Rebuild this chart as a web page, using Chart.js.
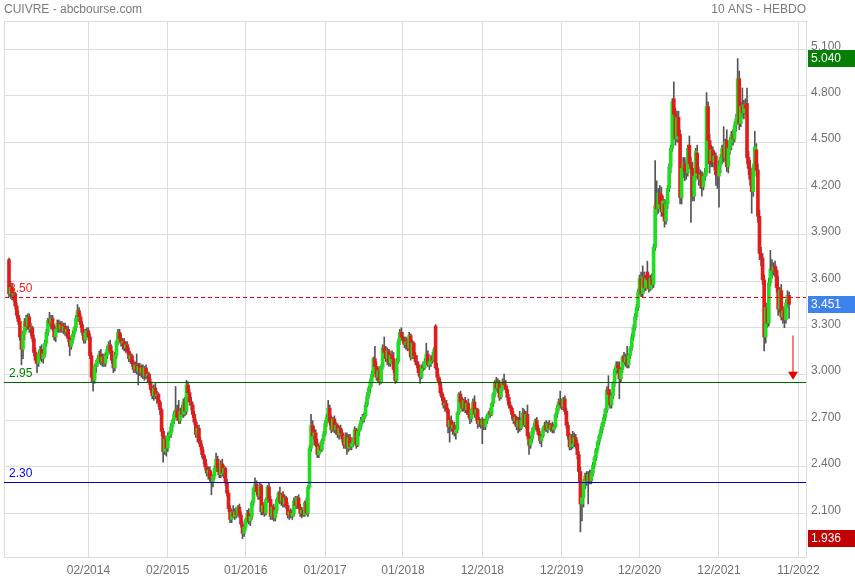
<!DOCTYPE html>
<html><head><meta charset="utf-8">
<script src="https://cdn.jsdelivr.net/npm/chart.js@4.4.1/dist/chart.umd.min.js"></script>
<style>html,body{margin:0;padding:0;background:#fff}#wrap{width:855px;height:580px}</style>
</head><body><div id="wrap"><canvas id="c" width="855" height="580"></canvas></div>
<script>
const OPEN = [
3.74,3.52,3.56,3.51,3.52,3.44,3.38,3.34,3.24,3.16,
3.26,3.34,3.31,3.37,3.29,3.30,3.23,3.14,3.09,3.07,
3.13,3.16,3.10,3.13,3.20,3.27,3.35,3.33,3.36,3.30,
3.24,3.29,3.33,3.29,3.32,3.28,3.31,3.27,3.29,3.23,
3.18,3.22,3.26,3.30,3.36,3.41,3.37,3.32,3.27,3.22,
3.27,3.28,3.24,3.12,2.98,2.96,3.05,3.07,3.10,3.13,
3.08,3.11,3.07,3.12,3.16,3.19,3.15,3.09,3.04,3.12,
3.21,3.27,3.23,3.20,3.21,3.17,3.19,3.15,3.10,3.12,
3.07,3.03,3.06,3.02,3.05,3.01,3.04,2.99,3.04,2.99,
3.00,2.95,2.90,2.86,2.91,2.86,2.87,2.82,2.77,2.63,
2.50,2.58,2.52,2.60,2.61,2.66,2.70,2.74,2.77,2.72,
2.70,2.76,2.74,2.82,2.76,2.93,2.88,2.82,2.80,2.74,
2.69,2.61,2.65,2.57,2.53,2.48,2.45,2.40,2.36,2.38,
2.33,2.30,2.34,2.39,2.45,2.39,2.35,2.42,2.36,2.39,
2.30,2.23,2.13,2.06,2.11,2.08,2.11,2.09,2.14,2.09,
2.03,1.97,2.01,2.06,2.10,2.05,2.08,2.17,2.26,2.29,
2.24,2.21,2.28,2.11,2.15,2.10,2.19,2.27,2.19,2.08,
2.14,2.07,2.12,2.19,2.23,2.18,2.22,2.16,2.20,2.15,
2.09,2.11,2.08,2.10,2.18,2.15,2.20,2.14,2.10,2.12,
2.09,2.17,2.10,2.27,2.52,2.67,2.60,2.62,2.55,2.48,
2.53,2.51,2.57,2.61,2.68,2.72,2.78,2.69,2.64,2.71,
2.64,2.67,2.61,2.65,2.62,2.58,2.54,2.60,2.52,2.59,
2.53,2.55,2.57,2.64,2.54,2.63,2.66,2.70,2.71,2.73,
2.80,2.86,2.91,2.95,3.00,3.10,3.05,2.98,3.02,2.95,
3.05,3.17,3.14,3.10,3.15,3.07,3.12,3.10,3.03,2.96,
3.08,3.21,3.27,3.24,3.22,3.19,3.21,3.17,3.25,3.11,
3.20,3.12,3.08,3.06,3.01,2.98,3.05,3.04,3.08,3.13,
3.06,3.08,3.11,3.09,3.31,3.04,2.98,2.95,2.88,2.85,
2.80,2.81,2.77,2.66,2.70,2.65,2.67,2.62,2.64,2.75,
2.87,2.82,2.78,2.83,2.77,2.81,2.74,2.71,2.77,2.82,
2.74,2.77,2.68,2.70,2.67,2.70,2.66,2.70,2.73,2.75,
2.74,2.81,2.87,2.95,2.91,2.94,2.85,2.91,2.95,2.93,
2.90,2.85,2.80,2.78,2.74,2.70,2.72,2.66,2.70,2.65,
2.70,2.75,2.67,2.74,2.60,2.54,2.58,2.63,2.66,2.70,
2.65,2.61,2.57,2.60,2.65,2.67,2.64,2.68,2.65,2.67,
2.64,2.66,2.74,2.78,2.82,2.80,2.79,2.84,2.76,2.67,
2.60,2.53,2.60,2.55,2.59,2.55,2.48,2.37,2.16,2.20,
2.30,2.34,2.31,2.35,2.31,2.36,2.41,2.46,2.51,2.56,
2.60,2.64,2.68,2.72,2.77,2.90,2.87,2.80,2.86,2.94,
3.03,3.06,3.04,2.97,3.03,3.11,3.08,3.11,3.06,3.12,
3.17,3.24,3.30,3.37,3.43,3.53,3.62,3.52,3.63,3.56,
3.66,3.61,3.55,3.62,3.58,3.82,4.11,4.07,4.17,4.16,
4.05,4.10,3.99,4.10,4.20,4.34,4.46,4.78,4.68,4.52,
4.66,4.55,4.14,4.33,4.36,4.33,4.30,4.48,4.36,4.33,
4.15,4.28,4.43,4.30,4.26,4.29,4.21,4.28,4.30,4.73,
4.51,4.38,4.45,4.37,4.41,4.31,4.28,4.35,4.40,4.46,
4.40,4.51,4.34,4.46,4.50,4.55,4.52,4.61,4.65,4.91,
4.62,4.73,4.69,4.74,4.75,4.40,4.33,4.26,4.18,4.34,
4.45,4.32,4.02,3.78,3.75,3.61,3.24,3.43,3.33,3.59,
3.68,3.67,3.70,3.67,3.56,3.42,3.54,3.37,3.41,3.35,
3.46,3.51];
const HIGH = [
3.75,3.60,3.58,3.54,3.53,3.46,3.41,3.36,3.26,3.28,
3.36,3.38,3.39,3.39,3.33,3.31,3.25,3.17,3.12,3.15,
3.18,3.19,3.15,3.22,3.29,3.36,3.40,3.38,3.38,3.32,
3.31,3.35,3.35,3.34,3.34,3.33,3.33,3.31,3.31,3.25,
3.24,3.28,3.31,3.38,3.45,3.43,3.39,3.34,3.29,3.29,
3.30,3.30,3.26,3.14,3.02,3.06,3.09,3.12,3.15,3.16,
3.13,3.13,3.14,3.18,3.21,3.22,3.18,3.11,3.14,3.22,
3.29,3.29,3.26,3.23,3.23,3.21,3.21,3.17,3.14,3.13,
3.09,3.08,3.13,3.07,3.07,3.06,3.06,3.05,3.06,3.02,
3.01,2.97,2.92,2.93,2.94,2.89,2.88,2.83,2.78,2.65,
2.60,2.60,2.62,2.63,2.68,2.71,2.76,2.92,2.80,2.83,
2.78,2.80,2.84,2.85,2.96,2.95,2.90,2.85,2.82,2.76,
2.71,2.67,2.67,2.59,2.55,2.51,2.47,2.42,2.40,2.40,
2.37,2.35,2.41,2.49,2.47,2.41,2.44,2.45,2.41,2.40,
2.32,2.25,2.15,2.12,2.15,2.13,2.14,2.15,2.16,2.11,
2.05,2.03,2.07,2.12,2.13,2.10,2.18,2.27,2.33,2.31,
2.26,2.30,2.29,2.17,2.17,2.20,2.28,2.30,2.21,2.15,
2.16,2.13,2.20,2.24,2.27,2.23,2.24,2.22,2.21,2.17,
2.12,2.13,2.12,2.20,2.21,2.21,2.22,2.16,2.13,2.14,
2.18,2.20,2.28,2.54,2.74,2.70,2.66,2.64,2.58,2.54,
2.56,2.58,2.63,2.70,2.74,2.83,2.80,2.73,2.72,2.73,
2.69,2.68,2.66,2.67,2.64,2.60,2.62,2.62,2.61,2.61,
2.57,2.59,2.66,2.65,2.64,2.68,2.72,2.74,2.75,2.82,
2.88,2.92,2.97,3.02,3.11,3.18,3.08,3.04,3.05,3.06,
3.19,3.24,3.18,3.17,3.16,3.13,3.15,3.14,3.05,3.10,
3.23,3.29,3.30,3.27,3.24,3.24,3.23,3.27,3.26,3.22,
3.21,3.14,3.12,3.08,3.03,3.06,3.08,3.10,3.20,3.15,
3.10,3.12,3.14,3.17,3.32,3.07,3.00,2.97,2.91,2.87,
2.84,2.83,2.78,2.72,2.73,2.69,2.69,2.66,2.76,2.88,
2.89,2.85,2.84,2.85,2.82,2.84,2.76,2.78,2.84,2.86,
2.78,2.78,2.72,2.71,2.72,2.71,2.71,2.74,2.76,2.78,
2.82,2.88,2.96,2.98,2.97,2.96,2.92,2.97,3.00,2.96,
2.92,2.87,2.82,2.79,2.76,2.74,2.73,2.72,2.76,2.72,
2.78,2.77,2.76,2.80,2.62,2.60,2.65,2.68,2.71,2.72,
2.67,2.63,2.61,2.66,2.69,2.70,2.69,2.70,2.68,2.69,
2.68,2.75,2.80,2.84,2.89,2.84,2.85,2.86,2.78,2.69,
2.62,2.61,2.63,2.62,2.61,2.57,2.50,2.40,2.22,2.32,
2.36,2.37,2.37,2.38,2.38,2.43,2.47,2.52,2.57,2.61,
2.66,2.69,2.74,2.78,2.92,2.99,2.90,2.88,2.95,3.04,
3.08,3.08,3.08,3.04,3.12,3.14,3.13,3.18,3.13,3.18,
3.26,3.32,3.39,3.45,3.55,3.64,3.66,3.70,3.66,3.64,
3.73,3.64,3.64,3.65,3.84,4.38,4.25,4.20,4.22,4.21,
4.15,4.13,4.12,4.22,4.36,4.48,4.78,4.89,4.72,4.70,
4.70,4.58,4.35,4.40,4.40,4.38,4.48,4.54,4.40,4.37,
4.30,4.46,4.48,4.34,4.32,4.31,4.30,4.33,4.82,4.76,
4.55,4.48,4.47,4.44,4.43,4.35,4.38,4.42,4.48,4.60,
4.52,4.58,4.48,4.53,4.57,4.58,4.63,4.68,5.04,4.96,
4.76,4.85,4.77,4.78,4.85,4.44,4.38,4.30,4.36,4.57,
4.49,4.36,4.06,3.82,3.78,3.64,3.46,3.46,3.62,3.80,
3.74,3.72,3.73,3.69,3.63,3.56,3.58,3.44,3.43,3.48,
3.54,3.53];
const LOW = [
3.50,3.49,3.48,3.47,3.42,3.36,3.32,3.22,3.06,3.10,
3.22,3.28,3.29,3.27,3.25,3.21,3.12,3.07,3.01,3.05,
3.09,3.08,3.07,3.11,3.18,3.25,3.31,3.29,3.28,3.22,
3.21,3.27,3.27,3.27,3.27,3.26,3.25,3.24,3.21,3.12,
3.16,3.20,3.24,3.28,3.34,3.34,3.30,3.25,3.20,3.20,
3.25,3.22,3.10,2.95,2.89,2.94,3.01,3.05,3.07,3.06,
3.05,3.05,3.05,3.10,3.13,3.13,3.07,3.01,3.02,3.10,
3.19,3.21,3.18,3.16,3.15,3.14,3.13,3.08,3.07,3.05,
3.01,3.01,3.00,2.93,2.99,2.98,2.97,2.96,2.97,2.95,
2.93,2.88,2.84,2.83,2.84,2.81,2.79,2.74,2.60,2.43,
2.48,2.47,2.50,2.57,2.59,2.63,2.68,2.72,2.70,2.68,
2.68,2.72,2.72,2.73,2.74,2.86,2.80,2.77,2.72,2.67,
2.59,2.56,2.55,2.51,2.46,2.42,2.38,2.34,2.32,2.31,
2.22,2.27,2.32,2.37,2.37,2.33,2.33,2.34,2.33,2.28,
2.21,2.11,2.04,2.04,2.07,2.06,2.07,2.08,2.07,2.01,
1.936,1.95,1.99,2.04,2.03,2.02,2.06,2.15,2.24,2.22,
2.19,2.19,2.09,2.09,2.08,2.09,2.17,2.17,2.06,2.06,
2.05,2.05,2.10,2.17,2.16,2.15,2.14,2.14,2.13,2.07,
2.06,2.07,2.06,2.08,2.13,2.13,2.13,2.08,2.07,2.08,
2.08,2.09,2.08,2.26,2.50,2.58,2.54,2.53,2.46,2.46,
2.49,2.50,2.55,2.60,2.66,2.70,2.67,2.62,2.63,2.62,
2.61,2.59,2.58,2.60,2.56,2.52,2.52,2.48,2.50,2.51,
2.51,2.53,2.55,2.52,2.53,2.60,2.64,2.68,2.69,2.72,
2.79,2.84,2.88,2.92,2.98,3.03,2.96,2.95,2.93,2.94,
3.03,3.12,3.08,3.06,3.05,3.05,3.08,3.01,2.94,2.95,
3.07,3.19,3.22,3.20,3.17,3.16,3.15,3.15,3.09,3.10,
3.10,3.06,3.04,2.99,2.94,2.97,3.02,3.03,3.06,3.05,
3.03,3.05,3.07,3.08,3.03,2.96,2.93,2.86,2.83,2.78,
2.76,2.75,2.62,2.56,2.63,2.61,2.60,2.58,2.62,2.74,
2.80,2.76,2.76,2.75,2.74,2.72,2.68,2.69,2.75,2.72,
2.70,2.65,2.66,2.65,2.55,2.64,2.64,2.68,2.71,2.72,
2.73,2.79,2.85,2.89,2.88,2.83,2.84,2.89,2.91,2.88,
2.83,2.78,2.76,2.71,2.68,2.67,2.64,2.62,2.63,2.64,
2.68,2.66,2.65,2.58,2.48,2.52,2.56,2.61,2.64,2.63,
2.60,2.55,2.53,2.59,2.63,2.63,2.62,2.64,2.63,2.62,
2.62,2.65,2.72,2.76,2.78,2.77,2.77,2.74,2.65,2.58,
2.51,2.51,2.52,2.53,2.52,2.45,2.30,1.98,2.05,2.14,
2.26,2.28,2.16,2.29,2.29,2.34,2.39,2.44,2.49,2.54,
2.58,2.62,2.66,2.70,2.75,2.84,2.78,2.78,2.84,2.92,
3.00,3.01,2.84,2.95,3.01,3.06,3.05,3.04,3.04,3.10,
3.15,3.22,3.28,3.35,3.41,3.51,3.50,3.50,3.53,3.54,
3.59,3.53,3.54,3.55,3.56,3.80,4.03,4.04,4.07,4.02,
4.02,3.95,3.97,4.07,4.18,4.30,4.44,4.62,4.48,4.50,
4.50,4.10,4.10,4.27,4.25,4.26,4.28,4.33,3.98,4.12,
4.12,4.25,4.27,4.22,4.20,4.15,4.19,4.25,4.28,4.48,
4.30,4.34,4.34,4.32,4.22,4.20,4.08,4.30,4.36,4.37,
4.38,4.31,4.30,4.42,4.45,4.48,4.50,4.57,4.62,4.58,
4.60,4.66,4.65,4.68,4.36,4.29,4.22,4.04,4.15,4.32,
4.28,3.98,3.74,3.70,3.58,3.15,3.20,3.30,3.31,3.57,
3.62,3.64,3.63,3.53,3.38,3.40,3.35,3.33,3.30,3.33,
3.43,3.36];
const CLOSE = [
3.52,3.56,3.51,3.52,3.44,3.38,3.34,3.24,3.16,3.26,
3.34,3.31,3.37,3.29,3.30,3.23,3.14,3.09,3.07,3.13,
3.16,3.10,3.13,3.20,3.27,3.35,3.33,3.36,3.30,3.24,
3.29,3.33,3.29,3.32,3.28,3.31,3.27,3.29,3.23,3.18,
3.22,3.26,3.30,3.36,3.41,3.37,3.32,3.27,3.22,3.27,
3.28,3.24,3.12,2.98,2.96,3.05,3.07,3.10,3.13,3.08,
3.11,3.07,3.12,3.16,3.19,3.15,3.09,3.04,3.12,3.21,
3.27,3.23,3.20,3.21,3.17,3.19,3.15,3.10,3.12,3.07,
3.03,3.06,3.02,3.05,3.01,3.04,2.99,3.04,2.99,3.00,
2.95,2.90,2.86,2.91,2.86,2.87,2.82,2.77,2.63,2.50,
2.58,2.52,2.60,2.61,2.66,2.70,2.74,2.77,2.72,2.70,
2.76,2.74,2.82,2.76,2.93,2.88,2.82,2.80,2.74,2.69,
2.61,2.65,2.57,2.53,2.48,2.45,2.40,2.36,2.38,2.33,
2.30,2.34,2.39,2.45,2.39,2.35,2.42,2.36,2.39,2.30,
2.23,2.13,2.06,2.11,2.08,2.11,2.09,2.14,2.09,2.03,
1.97,2.01,2.06,2.10,2.05,2.08,2.17,2.26,2.29,2.24,
2.21,2.28,2.11,2.15,2.10,2.19,2.27,2.19,2.08,2.14,
2.07,2.12,2.19,2.23,2.18,2.22,2.16,2.20,2.15,2.09,
2.11,2.08,2.10,2.18,2.15,2.20,2.14,2.10,2.12,2.09,
2.17,2.10,2.27,2.52,2.67,2.60,2.62,2.55,2.48,2.53,
2.51,2.57,2.61,2.68,2.72,2.78,2.69,2.64,2.71,2.64,
2.67,2.61,2.65,2.62,2.58,2.54,2.60,2.52,2.59,2.53,
2.55,2.57,2.64,2.54,2.63,2.66,2.70,2.71,2.73,2.80,
2.86,2.91,2.95,3.00,3.10,3.05,2.98,3.02,2.95,3.05,
3.17,3.14,3.10,3.15,3.07,3.12,3.10,3.03,2.96,3.08,
3.21,3.27,3.24,3.22,3.19,3.21,3.17,3.25,3.11,3.20,
3.12,3.08,3.06,3.01,2.98,3.05,3.04,3.08,3.13,3.06,
3.08,3.11,3.09,3.16,3.04,2.98,2.95,2.88,2.85,2.80,
2.81,2.77,2.66,2.70,2.65,2.67,2.62,2.64,2.75,2.87,
2.82,2.78,2.83,2.77,2.81,2.74,2.71,2.77,2.82,2.74,
2.77,2.68,2.70,2.67,2.70,2.66,2.70,2.73,2.75,2.74,
2.81,2.87,2.95,2.91,2.94,2.85,2.91,2.95,2.93,2.90,
2.85,2.80,2.78,2.74,2.70,2.72,2.66,2.70,2.65,2.70,
2.75,2.67,2.74,2.60,2.54,2.58,2.63,2.66,2.70,2.65,
2.61,2.57,2.60,2.65,2.67,2.64,2.68,2.65,2.67,2.64,
2.66,2.74,2.78,2.82,2.80,2.79,2.84,2.76,2.67,2.60,
2.53,2.60,2.55,2.59,2.55,2.48,2.37,2.16,2.20,2.30,
2.34,2.31,2.35,2.31,2.36,2.41,2.46,2.51,2.56,2.60,
2.64,2.68,2.72,2.77,2.90,2.87,2.80,2.86,2.94,3.03,
3.06,3.04,2.97,3.03,3.11,3.08,3.11,3.06,3.12,3.17,
3.24,3.30,3.37,3.43,3.53,3.62,3.52,3.63,3.56,3.62,
3.61,3.55,3.62,3.58,3.82,4.09,4.07,4.17,4.10,4.05,
4.12,3.99,4.10,4.20,4.34,4.46,4.76,4.68,4.52,4.66,
4.54,4.14,4.33,4.36,4.31,4.30,4.46,4.36,4.33,4.15,
4.28,4.44,4.30,4.26,4.29,4.21,4.28,4.30,4.73,4.51,
4.36,4.45,4.37,4.41,4.29,4.28,4.35,4.40,4.46,4.40,
4.50,4.34,4.46,4.51,4.55,4.52,4.61,4.65,4.91,4.62,
4.73,4.69,4.74,4.72,4.40,4.33,4.26,4.18,4.34,4.47,
4.32,4.02,3.78,3.75,3.61,3.24,3.43,3.33,3.59,3.68,
3.67,3.69,3.67,3.56,3.42,3.54,3.37,3.41,3.35,3.46,
3.51,3.451];

// x-axis: week index of each date label
const TICK_WEEKS = [51, 102, 152, 203, 253, 304, 355, 405, 456, 507];
const TICK_LABELS = ['02/2014','02/2015','01/2016','01/2017','01/2018','12/2018','12/2019','12/2020','12/2021','11/2022'];
const PRICE_TICKS = [2.1, 2.4, 2.7, 3.0, 3.3, 3.6, 3.9, 4.2, 4.5, 4.8, 5.1];
const PRICE_RANGE = [1.8175, 5.283];
const WEEK_RANGE = [-3.21, 511.88];
const LEVELS = [3.50, 2.95, 2.30];
const TARGET = [3.25, 2.95];
const TITLE_LEFT = 'CUIVRE - abcbourse.com';
const TITLE_RIGHT = '10 ANS - HEBDO';

const FONT_FAMILY = '"Liberation Sans", Arial, Helvetica, sans-serif';
const FONT = '12px ' + FONT_FAMILY;
const UP = '#1fde1f', DOWN = '#e41b1b', WICK = '#555555';
const GRID = '#dddddd', TICK_COLOR = '#707070';

const weeks = CLOSE.map((_, i) => i);
const bodies = weeks.map(i => ({x: i, y: [OPEN[i], CLOSE[i]]}));
const wicks = weeks.map(i => ({x: i, y: [LOW[i], HIGH[i]]}));
const bodyColors = weeks.map(i => CLOSE[i] >= OPEN[i] ? UP : DOWN);

const overlay = {
  id: 'overlay',
  beforeDraw(chart) {
    const c = chart.ctx; c.save(); c.fillStyle = '#ffffff'; c.fillRect(0, 0, chart.width, chart.height); c.restore();
  },
  beforeDatasetsDraw(chart) {
    const {ctx, chartArea: a} = chart;
    ctx.save(); ctx.fillStyle = GRID;
    ctx.fillRect(Math.round(a.left), Math.round(a.top), 1, a.bottom - a.top);
    ctx.fillRect(Math.round(a.left), Math.round(a.top), a.right - a.left, 1);
    ctx.restore();
  },
  afterDatasetsDraw(chart) {
    const {ctx, chartArea: a, scales: {x, y}} = chart;
    const styles = [
      {line: 'rgb(255,0,0)', text: '#ff1a1a', dash: 4, gap: 3},
      {line: 'rgb(0,100,0)', text: '#008000', dash: 0, gap: 0},
      {line: 'rgb(0,0,204)', text: '#0000ff', dash: 0, gap: 0}
    ];
    ctx.save();
    ctx.font = FONT;
    LEVELS.forEach((v, k) => {
      const st = styles[k];
      const py = Math.round(y.getPixelForValue(v));
      ctx.fillStyle = st.line;
      if (st.dash > 0) {
        for (let px = a.left + 1; px < a.right; px += st.dash + st.gap) {
          ctx.fillRect(px, py, Math.min(st.dash, a.right - px), 1);
        }
      } else {
        ctx.fillRect(a.left, py, a.right - a.left, 1);
      }
      ctx.fillStyle = st.text; ctx.textAlign = 'left'; ctx.textBaseline = 'alphabetic';
      ctx.fillText(v.toFixed(2), a.left + 5, py - 5);
    });
    // target arrow
    const ax = Math.round(x.getPixelForValue(CLOSE.length - 1 + 2.5));
    const y0 = y.getPixelForValue(TARGET[0]);
    const tip = y.getPixelForValue(TARGET[1]) - 2;
    ctx.fillStyle = '#f27c7c';
    ctx.fillRect(ax - 1, y0, 2, tip - 7 - y0);
    ctx.fillStyle = '#e80000';
    ctx.beginPath(); ctx.moveTo(ax - 5, tip - 8); ctx.lineTo(ax + 5, tip - 8); ctx.lineTo(ax, tip); ctx.closePath(); ctx.fill();
    ctx.restore();
  },
  afterDraw(chart) {
    const {ctx, chartArea: a, scales: {y}} = chart;
    const badges = [
      {v: Math.max(...HIGH), bg: '#058005'},
      {v: CLOSE[CLOSE.length - 1], bg: '#3d83ee'},
      {v: Math.min(...LOW), bg: '#c20000'}
    ];
    ctx.save();
    ctx.font = FONT;
    badges.forEach(b => {
      const py = y.getPixelForValue(b.v);
      ctx.fillStyle = b.bg;
      ctx.fillRect(a.right + 2, Math.round(py - 8.5), chart.width - a.right - 2, 17);
      ctx.fillStyle = '#ffffff'; ctx.textAlign = 'left'; ctx.textBaseline = 'middle';
      ctx.fillText(b.v.toFixed(3), a.right + 5, py + 0.5);
    });
    ctx.fillStyle = '#7a7a7a'; ctx.textBaseline = 'alphabetic';
    ctx.textAlign = 'left'; ctx.fillText(TITLE_LEFT, a.left, 13);
    ctx.textAlign = 'right'; ctx.fillText(TITLE_RIGHT, a.right, 13);
    ctx.restore();
  }
};

new Chart(document.getElementById('c'), {
  type: 'bar',
  data: {
    datasets: [
      {data: bodies, backgroundColor: bodyColors, barThickness: 3, grouped: false, order: 0, minBarLength: 1, borderWidth: 0},
      {data: wicks, backgroundColor: WICK, barThickness: 1, grouped: false, order: 1, borderWidth: 0}
    ]
  },
  options: {
    responsive: false, maintainAspectRatio: false, animation: false, devicePixelRatio: 1,
    events: [],
    layout: {padding: {left: 4, top: 21, right: 0, bottom: 0}},
    plugins: {legend: {display: false}, tooltip: {enabled: false}, title: {display: false}},
    scales: {
      x: {
        type: 'linear', min: WEEK_RANGE[0], max: WEEK_RANGE[1], offset: false, bounds: 'data',
        grid: {color: GRID, drawTicks: false, offset: false, lineWidth: 1},
        border: {display: true, color: GRID},
        afterBuildTicks: s => { s.ticks = TICK_WEEKS.map(v => ({value: v})); },
        afterFit: s => { s.height = 23; },
        ticks: {autoSkip: false, maxRotation: 0, minRotation: 0, padding: 6, color: TICK_COLOR,
          font: {family: FONT_FAMILY, size: 12},
          callback: (v, i) => TICK_LABELS[i]}
      },
      y: {
        type: 'linear', position: 'right', min: PRICE_RANGE[0], max: PRICE_RANGE[1], bounds: 'data',
        grid: {color: GRID, drawTicks: false, lineWidth: 1},
        border: {display: true, color: GRID},
        afterBuildTicks: s => { s.ticks = PRICE_TICKS.map(v => ({value: v})); },
        afterFit: s => { s.width = 49; },
        ticks: {padding: 5, labelOffset: -3, color: TICK_COLOR,
          font: {family: FONT_FAMILY, size: 12},
          callback: v => Number(v).toFixed(3)}
      }
    }
  },
  plugins: [overlay]
});
</script>
</body></html>
